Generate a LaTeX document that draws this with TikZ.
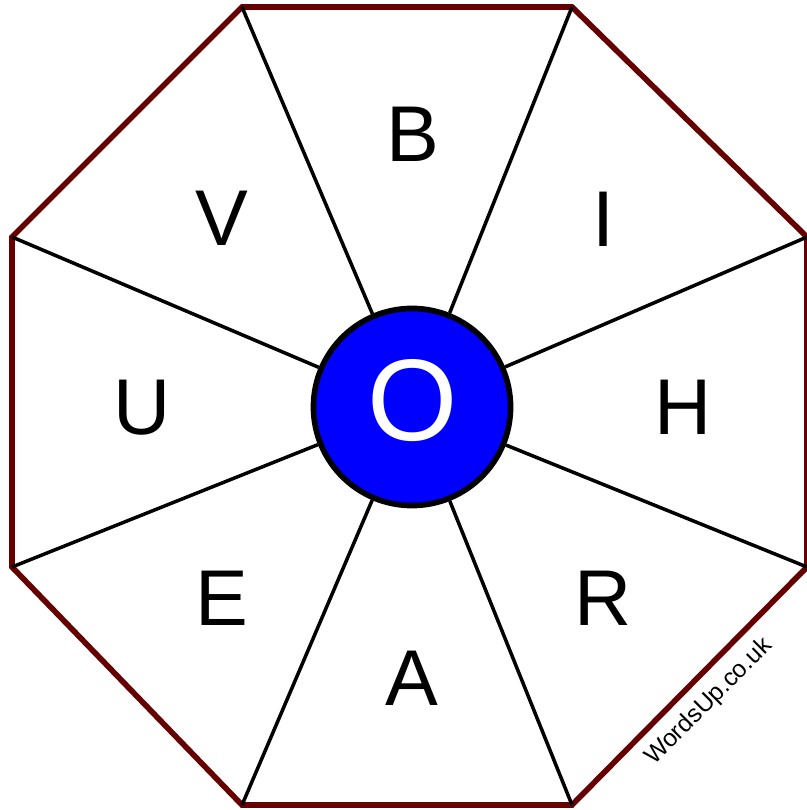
\documentclass[tikz,border=0pt]{standalone}
\usepackage{fontspec}
\setmainfont{Liberation Sans}
\definecolor{rimred}{RGB}{102,0,0}
\definecolor{hubblue}{RGB}{0,0,255}
\usepackage{tikz}
\usetikzlibrary{calc}

\begin{document}
\begin{tikzpicture}[x=0.01cm, y=-0.01cm,
    letter/.style={font=\fontsize{22.5}{27}\selectfont, inner sep=0pt},
    spoke/.style={line width=1pt, black}]
        \useasboundingbox (0,0) rectangle (807,810);
        % octagon corners
        \coordinate (v1) at (242,7);
        \coordinate (v2) at (572,7);
        \coordinate (v3) at (807,237);
        \coordinate (v4) at (807,567);
        \coordinate (v5) at (572,805);
        \coordinate (v6) at (242,805);
        \coordinate (v7) at (12,567);
        \coordinate (v8) at (12,237);
        \draw[line width=1.6pt, rimred, line join=miter]
            (v1) -- (v2) -- (v3) -- (v4) -- (v5) -- (v6) -- (v7) -- (v8) -- cycle;
        % centre disc
        \node[circle, fill=hubblue, draw=black, line width=1.6pt, minimum size=1.97cm, inner sep=0pt] (hub) at (412,407) {};
        \foreach \v in {v1,v2,v3,v4,v5,v6,v7,v8}
            \draw[spoke] (hub) -- (\v);
        \node[text=white, font=\fontsize{33}{40}\selectfont, inner sep=0pt] (o) at (413,401) {O};
        % outer letters
        \node[letter] (b) at (413,134) {B};
        \node[letter] (i) at (603,219) {I};
        \node[letter] (h) at (683,407) {H};
        \node[letter] (r) at (603,598) {R};
        \node[letter] (a) at (412,678) {A};
        \node[letter] (e) at (222,598) {E};
        \node[letter] (u) at (142,408) {U};
        \node[letter] (v) at (222,218) {V};
        \node[font=\fontsize{7}{8}\selectfont, rotate=45, inner sep=0pt] (credit) at (709,702) {WordsUp.co.uk};
      \end{tikzpicture}
\end{document}
